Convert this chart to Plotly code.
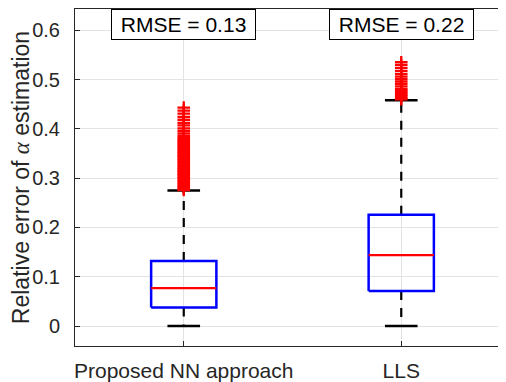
import plotly.graph_objects as go

# ---- data ----
categories = ["Proposed NN approach", "LLS"]
positions = [1, 2]
lower_whisker = [0.0, 0.0]
q1 = [0.038, 0.071]
median = [0.077, 0.144]
q3 = [0.132, 0.226]
upper_whisker = [0.275, 0.458]
rmse = [0.13, 0.22]

nn_outliers = [0.276, 0.279, 0.282, 0.285, 0.288, 0.291, 0.294, 0.297, 0.300,
               0.303, 0.306, 0.309, 0.312, 0.315, 0.318, 0.321, 0.324, 0.327,
               0.330, 0.333, 0.336, 0.339, 0.342, 0.345, 0.348, 0.351, 0.354,
               0.357, 0.360, 0.363, 0.366, 0.369, 0.372, 0.375, 0.378, 0.381,
               0.386, 0.391, 0.396, 0.401, 0.407, 0.412, 0.418, 0.424, 0.431,
               0.437, 0.443]
lls_outliers = [0.460, 0.463, 0.466, 0.469, 0.472, 0.475, 0.478, 0.481, 0.486,
                0.491, 0.496, 0.501, 0.506, 0.511, 0.517, 0.523, 0.529, 0.535]
outliers = [nn_outliers, lls_outliers]

y_ticks = [0, 0.1, 0.2, 0.3, 0.4, 0.5, 0.6]
y_tick_labels = ["0", "0.1", "0.2", "0.3", "0.4", "0.5", "0.6"]

BOX_HALF = 0.15
CAP_HALF = 0.075
AX_COLOR = "#262626"

fig = go.Figure()

for i, c in enumerate(positions):
    # whiskers (dashed)
    fig.add_trace(go.Scatter(
        x=[c, c, None, c, c],
        y=[q3[i], upper_whisker[i], None, q1[i], lower_whisker[i]],
        mode="lines", line=dict(color="black", width=2.2, dash="9px,8px"),
        hoverinfo="skip", showlegend=False))
    # caps
    fig.add_trace(go.Scatter(
        x=[c - CAP_HALF, c + CAP_HALF, None, c - CAP_HALF, c + CAP_HALF],
        y=[upper_whisker[i], upper_whisker[i], None, lower_whisker[i], lower_whisker[i]],
        mode="lines", line=dict(color="black", width=2.5),
        hoverinfo="skip", showlegend=False))
    # box
    fig.add_trace(go.Scatter(
        x=[c - BOX_HALF, c + BOX_HALF, c + BOX_HALF, c - BOX_HALF, c - BOX_HALF],
        y=[q1[i], q1[i], q3[i], q3[i], q1[i]],
        mode="lines", line=dict(color="#0000ff", width=2.5),
        hoverinfo="skip", showlegend=False))
    # median
    fig.add_trace(go.Scatter(
        x=[c - BOX_HALF, c + BOX_HALF], y=[median[i], median[i]],
        mode="lines", line=dict(color="#ff0000", width=2.2),
        hoverinfo="skip", showlegend=False))
    # outliers
    fig.add_trace(go.Scatter(
        x=[c] * len(outliers[i]), y=outliers[i], mode="markers",
        marker=dict(symbol="cross-thin", size=9,
                    line=dict(color="#ff0000", width=2.3)),
        hoverinfo="skip", showlegend=False))
    # RMSE label
    fig.add_annotation(
        x=c, xref="x", y=1, yref="paper", yanchor="top", xanchor="center",
        text=f"&nbsp;RMSE = {rmse[i]:.2f}&nbsp;", showarrow=False,
        font=dict(family="Liberation Sans", size=21, color="black"),
        bgcolor="white", bordercolor="black", borderwidth=1, borderpad=3)

# page body adds an 8px offset; figure is sized to fill the rest of the window
fig.update_layout(
    width=498, height=374,
    margin=dict(l=67, r=0, t=0, b=35),
    paper_bgcolor="white", plot_bgcolor="white",
    font=dict(family="Liberation Sans", color=AX_COLOR),
    showlegend=False,
)
fig.update_xaxes(
    range=[0.5, 2.477], tickvals=positions, ticktext=categories,
    showgrid=True, gridcolor="#e3e3e3", gridwidth=1, zeroline=False,
    showline=True, linecolor=AX_COLOR, linewidth=1, mirror="allticks",
    ticks="inside", ticklen=5, tickcolor=AX_COLOR,
    tickfont=dict(size=21, color=AX_COLOR), ticklabelstandoff=6,
)
fig.update_yaxes(
    range=[-0.0403, 0.643], tickvals=y_ticks, ticktext=y_tick_labels,
    showgrid=True, gridcolor="#e3e3e3", gridwidth=1, zeroline=False,
    showline=True, linecolor=AX_COLOR, linewidth=1, mirror="allticks",
    ticks="inside", ticklen=5, tickcolor=AX_COLOR,
    tickfont=dict(size=20, color=AX_COLOR), ticklabelstandoff=10,
    title=dict(text="Relative error of <span style='font-family:Liberation Serif'><i>α</i></span> estimation",
               font=dict(size=23, color=AX_COLOR), standoff=7),
)

fig.write_html("out.html")
